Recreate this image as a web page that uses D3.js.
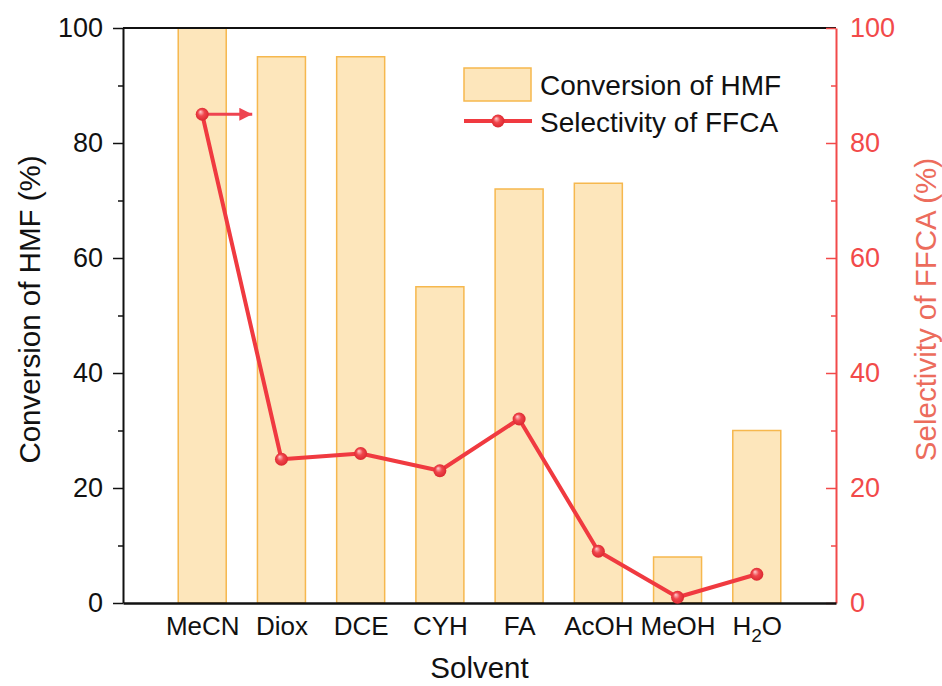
<!DOCTYPE html>
<html>
<head>
<meta charset="utf-8">
<script src="https://cdn.jsdelivr.net/npm/d3@7"></script>
<style>
  body { margin: 0; background: #fff; }
  text { font-family: 'Liberation Sans', Arial, sans-serif; }
</style>
</head>
<body>
<div id="chart"></div>
<script>
// data
let solvents = ['MeCN', 'Diox', 'DCE', 'CYH', 'FA', 'AcOH', 'MeOH', 'H2O']
let conversion = [100, 95, 95, 55, 72, 73, 8, 30]
let selectivity = [85, 25, 26, 23, 32, 9, 1, 5]
let majorTicks = [0, 20, 40, 60, 80, 100]
let minorTicks = [10, 30, 50, 70, 90]

let width = 942,
    height = 686,
    margin = { top: 28, right: 106, bottom: 83, left: 123 }

let barFill = '#fde6bb',
    barStroke = '#f6b84e',
    red = '#f03a40',
    redAxis = '#f24a4a',
    redTitle = '#ec6c5c'

let svg = d3.select('#chart').append('svg')
    .attr('width', width)
    .attr('height', height)

let defs = svg.append('defs')
let grad = defs.append('radialGradient')
    .attr('id', 'ball')
    .attr('cx', '50%').attr('cy', '50%').attr('r', '55%')
    .attr('fx', '35%').attr('fy', '30%')
grad.append('stop').attr('offset', '0%').attr('stop-color', '#ffd0d0')
grad.append('stop').attr('offset', '45%').attr('stop-color', '#f0464c')
grad.append('stop').attr('offset', '100%').attr('stop-color', '#d8242c')

defs.append('marker')
    .attr('id', 'arrow')
    .attr('viewBox', '0 0 10 10')
    .attr('refX', 10).attr('refY', 5)
    .attr('markerWidth', 7.5).attr('markerHeight', 4.3)
    .attr('markerUnits', 'strokeWidth')
    .attr('orient', 'auto')
    .append('path')
    .attr('d', 'M0,0 L10,5 L0,10 Z')
    .attr('fill', '#ee4450')

let x = d3.scalePoint()
    .domain(solvents)
    .range([margin.left, width - margin.right])
    .padding(1)

let y = d3.scaleLinear()
    .domain([0, 100])
    .range([height - margin.bottom, margin.top])

let y2 = d3.scaleLinear()
    .domain([0, 100])
    .range([height - margin.bottom, margin.top])

let barW = 48

// bars
svg.append('g').attr('class', 'bars')
    .selectAll('rect')
    .data(solvents)
    .enter().append('rect')
    .attr('x', d => x(d) - barW / 2)
    .attr('y', (d, i) => y(conversion[i]))
    .attr('width', barW)
    .attr('height', (d, i) => y(0) - y(conversion[i]))
    .attr('fill', barFill)
    .attr('stroke', barStroke)
    .attr('stroke-width', 1.5)

// top frame
svg.append('line')
    .attr('x1', margin.left).attr('x2', width - margin.right)
    .attr('y1', margin.top).attr('y2', margin.top)
    .attr('stroke', '#111').attr('stroke-width', 2)

// left axis
let leftAxis = svg.append('g')
    .attr('transform', `translate(${margin.left},0)`)
    .call(d3.axisLeft(y).tickValues(majorTicks).tickSize(10).tickSizeOuter(0).tickPadding(10))
leftAxis.select('.domain').attr('stroke', '#111').attr('stroke-width', 2)
leftAxis.selectAll('.tick line').attr('stroke', '#111').attr('stroke-width', 1.5)
leftAxis.selectAll('.tick text').attr('font-size', 27).attr('fill', '#111')
    .attr('font-family', "'Liberation Sans', Arial, sans-serif")

svg.append('g')
    .attr('transform', `translate(${margin.left},0)`)
    .call(d3.axisLeft(y).tickValues(minorTicks).tickSize(5).tickFormat(''))
    .call(g => g.select('.domain').remove())
    .selectAll('.tick line').attr('stroke', '#111').attr('stroke-width', 1.5)

// right axis, ticks point inward
let rightAxis = svg.append('g')
    .attr('transform', `translate(${width - margin.right},0)`)
    .call(d3.axisRight(y2).tickValues(majorTicks).tickSize(0).tickSizeOuter(0).tickPadding(14))
rightAxis.select('.domain').attr('stroke', redAxis).attr('stroke-width', 2)
rightAxis.selectAll('.tick text').attr('font-size', 27).attr('fill', redAxis)
    .attr('font-family', "'Liberation Sans', Arial, sans-serif")
rightAxis.selectAll('.tick line')
    .attr('x1', -10).attr('x2', 0)
    .attr('stroke', redAxis).attr('stroke-width', 1.5)

svg.append('g')
    .attr('transform', `translate(${width - margin.right},0)`)
    .call(d3.axisRight(y2).tickValues(minorTicks).tickSize(0).tickFormat(''))
    .call(g => g.select('.domain').remove())
    .selectAll('.tick line')
    .attr('x1', -5).attr('x2', 0)
    .attr('stroke', redAxis).attr('stroke-width', 1.5)

// bottom axis
let bottomAxis = svg.append('g')
    .attr('transform', `translate(0,${height - margin.bottom})`)
    .call(d3.axisBottom(x).tickSize(0).tickSizeOuter(0).tickPadding(14))
bottomAxis.select('.domain').attr('stroke', '#111').attr('stroke-width', 2.5)
bottomAxis.selectAll('.tick text')
    .attr('font-size', 26).attr('fill', '#111')
    .attr('font-family', "'Liberation Sans', Arial, sans-serif")
    .each(function (d) {
        if (d === 'H2O') {
            let t = d3.select(this).text(null)
            t.append('tspan').text('H')
            t.append('tspan').text('2').attr('font-size', 19).attr('dy', 7)
            t.append('tspan').text('O').attr('dy', -7)
        }
    })

// axis titles
svg.append('text')
    .attr('transform', `translate(40,${(margin.top + height - margin.bottom) / 2 - 6}) rotate(-90)`)
    .attr('text-anchor', 'middle')
    .attr('font-size', 29.5)
    .attr('fill', '#111')
    .text('Conversion of HMF (%)')

svg.append('text')
    .attr('transform', `translate(936,${(margin.top + height - margin.bottom) / 2 - 6}) rotate(-90)`)
    .attr('text-anchor', 'middle')
    .attr('font-size', 29.5)
    .attr('fill', redTitle)
    .text('Selectivity of FFCA (%)')

svg.append('text')
    .attr('x', (margin.left + width - margin.right) / 2)
    .attr('y', 678)
    .attr('text-anchor', 'middle')
    .attr('font-size', 29.5)
    .attr('fill', '#111')
    .text('Solvent')

// selectivity line
let line = d3.line()
    .x(d => x(d))
    .y((d, i) => y2(selectivity[i]))

svg.append('path')
    .datum(solvents)
    .attr('d', line)
    .attr('fill', 'none')
    .attr('stroke', red)
    .attr('stroke-width', 4)
    .attr('stroke-linejoin', 'round')

// arrow pointing to the right axis
svg.append('line')
    .attr('x1', x(solvents[0])).attr('x2', x(solvents[0]) + 50)
    .attr('y1', y2(selectivity[0])).attr('y2', y2(selectivity[0]))
    .attr('stroke', '#ee4450')
    .attr('stroke-width', 3)
    .attr('marker-end', 'url(#arrow)')

svg.append('g')
    .selectAll('circle')
    .data(solvents)
    .enter().append('circle')
    .attr('cx', d => x(d))
    .attr('cy', (d, i) => y2(selectivity[i]))
    .attr('r', 6.5)
    .attr('fill', 'url(#ball)')

// legend
let legend = svg.append('g').attr('transform', 'translate(464,68)')
legend.append('rect')
    .attr('width', 67).attr('height', 33)
    .attr('fill', barFill).attr('stroke', barStroke).attr('stroke-width', 1.5)
legend.append('text')
    .attr('x', 76).attr('y', 27)
    .attr('font-size', 28).attr('fill', '#111')
    .text('Conversion of HMF')
legend.append('line')
    .attr('x1', 0).attr('x2', 68)
    .attr('y1', 53).attr('y2', 53)
    .attr('stroke', red).attr('stroke-width', 4)
legend.append('circle')
    .attr('cx', 34).attr('cy', 53).attr('r', 6.5)
    .attr('fill', 'url(#ball)')
legend.append('text')
    .attr('x', 76).attr('y', 64)
    .attr('font-size', 28).attr('fill', '#111')
    .text('Selectivity of FFCA')
</script>
</body>
</html>
